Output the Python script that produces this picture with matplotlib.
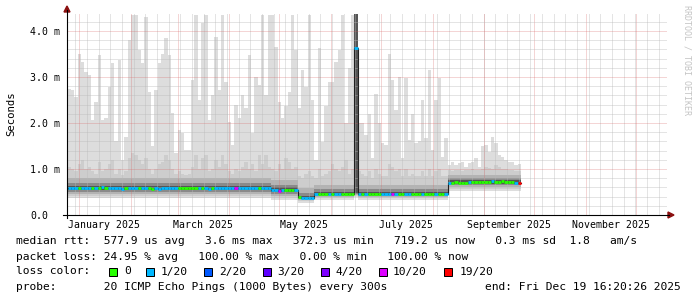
import matplotlib
matplotlib.use('Agg')
import matplotlib.pyplot as plt
import matplotlib.dates as mdates
from matplotlib.patches import Rectangle, Polygon
from matplotlib.lines import Line2D
import numpy as np
import pandas as pd

MONO = 'DejaVu Sans Mono'
plt.rcParams['font.family'] = [MONO]

# ---- data (rtt in ms, one value per 2-day bin) ----
end_time = pd.Timestamp('2025-12-19 16:20:26')
start_time = end_time - pd.Timedelta(days=360)
bin_days = 2
bin_start = pd.date_range('2024-12-25', periods=136, freq='2D')

# stretches where the dark part of the smoke stays level
seg_first = [0, 61, 69, 74, 86, 87, 114]
seg_last = [60, 68, 73, 85, 86, 113, 135]
smoke_bottom = [0.36, 0.33, 0.27, 0.32, 0.40, 0.32, 0.52]
low_outer = [0.41, 0.38, 0.30, 0.36, 0.42, 0.36, 0.57]
low_mid = [0.46, 0.42, 0.33, 0.39, 0.44, 0.39, 0.61]
low_inner = [0.50, 0.46, 0.35, 0.41, 0.46, 0.41, 0.65]
low_core = [0.54, 0.50, 0.36, 0.43, 0.48, 0.43, 0.68]
high_core = [0.64, 0.60, 0.42, 0.50, 4.37, 0.50, 0.76]
high_inner = [0.70, 0.66, 0.48, 0.56, 4.37, 0.56, 0.81]
high_outer = [0.80, 0.76, 0.58, 0.66, 4.37, 0.66, 0.88]

max_rtt = [
    2.75, 2.72, 2.57, 3.50, 3.33, 3.10, 3.04, 2.07, 2.46, 3.48,
    2.07, 2.10, 2.79, 3.30, 1.60, 3.37, 1.20, 1.70, 3.80, 4.35,
    4.35, 3.59, 3.30, 4.31, 2.68, 1.49, 2.72, 3.30, 3.51, 3.84,
    3.48, 2.21, 1.34, 1.85, 1.78, 1.41, 1.41, 2.93, 4.35, 2.50,
    4.17, 4.35, 2.07,
    2.61, 3.88, 2.72, 4.35, 2.90, 2.03, 1.52, 2.39, 2.10, 2.61,
    2.32, 3.48, 1.78, 3.00, 2.83, 4.35, 2.61, 4.35, 4.35, 3.66,
    2.46, 2.10, 2.36, 2.68, 4.35, 3.59, 2.32, 3.15, 2.79, 4.35,
    2.50, 1.20, 3.62, 1.59, 2.36, 2.90, 2.90, 3.33, 3.59, 4.35,
    2.00, 3.19, 4.35,
    4.37, 2.00,
    2.00, 1.74, 2.20, 1.23, 2.64, 2.00, 1.56, 1.52, 3.50, 2.93,
    2.28, 3.00, 1.23, 2.97, 1.63, 2.20, 1.56, 1.60, 2.50, 1.67,
    3.15, 1.41, 2.50, 2.97, 1.27, 1.67, 1.09, 1.16, 1.09, 1.12,
    1.16, 1.05, 1.12, 1.16, 1.23, 1.05, 1.49, 1.52, 1.38, 1.70,
    1.56, 1.30, 1.27, 1.20, 1.16, 1.16, 1.09, 1.10,
]

p90_rtt = [
    1.05, 1.00, 0.95, 1.10, 1.20, 1.00, 1.05, 0.95, 0.90, 1.15,
    0.95, 1.00, 1.10, 1.20, 0.90, 1.00, 0.88, 0.95, 1.25, 1.35,
    1.30, 1.20, 1.10, 1.25, 1.00, 0.90, 1.00, 1.10, 1.15, 1.30,
    1.20, 1.00, 0.90, 0.95, 0.90, 0.88, 0.90, 1.05, 1.30, 1.00,
    1.25, 1.30, 0.95, 1.00, 1.20, 1.05, 1.30, 1.10, 0.95, 0.90,
    1.00, 0.95, 1.05, 1.15, 1.00, 1.10, 0.95, 1.30, 1.10, 1.30,
    1.05,
    1.00, 0.95, 1.10, 1.00, 1.25, 1.15, 1.00, 1.05,
    0.85, 0.80, 0.90, 0.95, 0.85,
    0.80, 1.00, 0.85, 0.90, 0.95, 1.10, 1.00, 0.95, 1.05, 1.20, 0.90, 1.00,
    4.37,
    0.95, 0.90, 0.85, 0.95, 0.80, 1.00, 0.90, 0.85, 0.85, 1.10,
    1.05, 0.95, 1.00, 0.85, 1.00, 0.85, 0.90, 0.85, 0.85, 0.95,
    0.85, 1.00, 0.85, 0.95, 1.00, 0.85, 0.85,
    0.98, 0.96, 0.97, 0.98, 0.96, 0.97, 0.98, 1.00, 0.98, 0.97,
    1.00, 1.05, 1.02, 1.00, 1.08, 1.05, 1.00, 1.00, 0.98, 0.98,
    0.96, 0.96,
]

median_rtt = [
    0.59, 0.59, 0.58, 0.59, 0.58, 0.58, 0.59, 0.58, 0.58, 0.59,
    0.60, 0.59, 0.58, 0.58, 0.58, 0.58, 0.57, 0.58, 0.58, 0.59,
    0.58, 0.58, 0.59, 0.58, 0.58, 0.57, 0.58, 0.57, 0.58, 0.58,
    0.58, 0.58, 0.59, 0.59, 0.58, 0.58, 0.58, 0.59, 0.58, 0.58,
    0.58, 0.58, 0.57, 0.58, 0.58, 0.59, 0.58, 0.58, 0.58, 0.58,
    0.58, 0.58, 0.58, 0.58, 0.58, 0.58, 0.58, 0.58, 0.58, 0.58,
    0.58,
    0.54, 0.54, 0.53, 0.54, 0.54, 0.54, 0.55, 0.54,
    0.40, 0.38, 0.38, 0.37, 0.38,
    0.45, 0.46, 0.45, 0.45, 0.46, 0.45, 0.45, 0.46, 0.45, 0.45, 0.46, 0.46,
    3.62,
    0.46, 0.45, 0.46, 0.46, 0.45, 0.46, 0.45, 0.46, 0.45, 0.46,
    0.45, 0.46, 0.46, 0.45, 0.46, 0.46, 0.45, 0.46, 0.45, 0.46,
    0.46, 0.45, 0.46, 0.46, 0.45, 0.46, 0.46,
    0.70, 0.70, 0.71, 0.70, 0.69, 0.70, 0.71, 0.71, 0.72, 0.71,
    0.72, 0.72, 0.72, 0.73, 0.72, 0.72, 0.73, 0.72, 0.72, 0.71,
    0.69, 0.70,
]

# lost pings out of 20, per bin
lost_pings = [
    1, 1, 1, 0, 1, 1, 1, 0, 1, 0,
    1, 0, 1, 1, 1, 1, 1, 0, 1, 1,
    1, 0, 1, 1, 0, 0, 1, 1, 1, 1,
    1, 1, 1, 0, 0, 0, 0, 0, 0, 1,
    0, 1, 1, 0, 1, 1, 1, 1, 1, 1,
    10, 1, 1, 1, 1, 1, 1, 0, 1, 1,
    1,
    1, 1, 10, 1, 0, 0, 0, 1,
    0, 1, 1, 1, 1,
    1, 0, 0, 0, 1, 0, 1, 1, 0, 0, 0, 0,
    1,
    1, 0, 1, 0, 0, 0, 0, 1, 1, 1,
    10, 1, 0, 0, 1, 1, 0, 0, 0, 1,
    0, 0, 0, 1, 0, 0, 1,
    1, 0, 0, 0, 0, 0, 1, 0, 0, 0,
    0, 0, 0, 1, 0, 0, 0, 0, 0, 0,
    1, 19,
]

loss_levels = [0, 1, 2, 3, 4, 10, 19]
loss_names = ['0', '1/20', '2/20', '3/20', '4/20', '10/20', '19/20']
loss_colors = ['#26ff00', '#00b8ff', '#0059ff', '#5e00ff', '#7e00ff', '#dd00ff', '#ff0000']

month_label_dates = ['2025-01-16', '2025-03-16', '2025-05-16', '2025-07-16', '2025-09-16', '2025-11-16']
month_labels = ['January 2025', 'March 2025', 'May 2025', 'July 2025', 'September 2025', 'November 2025']
y_ticks = [0, 1, 2, 3, 4]
y_labels = ['0.0', '1.0 m', '2.0 m', '3.0 m', '4.0 m']

legend_rtt = 'median rtt:  577.9 us avg   3.6 ms max   372.3 us min   719.2 us now   0.3 ms sd  1.8   am/s'
legend_loss = 'packet loss: 24.95 % avg   100.00 % max   0.00 % min   100.00 % now'
legend_probe = 'probe:       20 ICMP Echo Pings (1000 Bytes) every 300s'
legend_end = 'end: Fri Dec 19 16:20:26 2025'

# ---- figure ----
W, H = 697, 297
fig = plt.figure(figsize=(W / 100, H / 100), dpi=100)
fig.patch.set_facecolor('white')
ax = fig.add_axes([67 / W, (H - 215) / H, 600 / W, 201 / H])
ax.set_facecolor('white')

x = mdates.date2num(bin_start.to_pydatetime())
seg_len = np.array(seg_last) - np.array(seg_first) + 1


def per_bin(vals):
    return np.repeat(np.array(vals, dtype=float), seg_len)


layers = [
    (per_bin(smoke_bottom), np.array(max_rtt), '#dddddd'),
    (per_bin(low_outer), np.array(p90_rtt), '#cdcdcd'),
    (per_bin(low_mid), per_bin(high_outer), '#b3b3b3'),
    (per_bin(low_inner), per_bin(high_inner), '#8a8a8a'),
    (per_bin(low_core), per_bin(high_core), '#555555'),
]
for lo, hi, col in layers:
    ax.bar(x, hi - lo, bottom=lo, width=bin_days, align='edge', color=col,
           linewidth=0, antialiased=False, zorder=1)

# grid (rrdtool style dotted lines, drawn over the smoke)
minor_c = (0.72, 0.72, 0.72, 0.75)
major_c = (0.85, 0.40, 0.40, 0.55)
dots = (0, (1, 1))
for d in pd.date_range(start_time, end_time, freq='W-SUN'):
    ax.axvline(mdates.date2num(d), color=minor_c, lw=0.72, ls=dots, zorder=2)
for d in pd.date_range('2025-01-01', '2025-12-01', freq='MS'):
    ax.axvline(mdates.date2num(d), color=major_c, lw=0.72, ls=dots, zorder=2)
for yv in np.arange(0.2, 4.3, 0.2):
    if abs(yv - round(yv)) > 0.01:
        ax.axhline(yv, color=minor_c, lw=0.72, ls=dots, zorder=2)
for yv in y_ticks[1:]:
    ax.axhline(yv, color=major_c, lw=0.72, ls=dots, zorder=2)

# median line + loss colours
med = np.array(median_rtt)
ax.step(np.append(x, x[-1] + bin_days), np.append(med, med[-1]), where='post',
        color='#202020', lw=0.8, zorder=3)
color_idx = [max(i for i, lv in enumerate(loss_levels) if lv <= n) for n in lost_pings]
ax.hlines(med, x, x + bin_days, colors=[loss_colors[i] for i in color_idx],
          linewidth=2.0, zorder=4)

ax.set_xlim(mdates.date2num(start_time.to_pydatetime()), mdates.date2num(end_time.to_pydatetime()))
ax.set_ylim(0, 4.37)
for s in ax.spines.values():
    s.set_visible(False)

ax.set_xticks(mdates.date2num(pd.to_datetime(month_label_dates).to_pydatetime()))
ax.set_xticklabels(month_labels)
ax.set_yticks(y_ticks)
ax.set_yticklabels(y_labels)
ax.tick_params(axis='x', length=0, pad=3.5, labelsize=7.1)
ax.tick_params(axis='y', length=0, pad=26.6, labelsize=7.1)
for lbl in ax.get_yticklabels():
    lbl.set_horizontalalignment('left')


def fx(px):
    return px / W


def fy(py):
    return 1 - py / H


# axes with arrows
fig.add_artist(Line2D([fx(67), fx(67)], [fy(218), fy(10)], color='black', lw=0.8))
fig.add_artist(Line2D([fx(63), fx(669)], [fy(215), fy(215)], color='black', lw=0.8))
fig.add_artist(Polygon([[fx(64), fy(12)], [fx(70), fy(12)], [fx(67), fy(6)]],
                       closed=True, color='#8b1010', transform=fig.transFigure))
fig.add_artist(Polygon([[fx(668), fy(212)], [fx(668), fy(218)], [fx(674), fy(215)]],
                       closed=True, color='#8b1010', transform=fig.transFigure))

fig.text(fx(11), fy(114), 'Seconds', rotation=90, ha='center', va='center', fontsize=7.7)
fig.text(fx(687), fy(5), 'RRDTOOL / TOBI OETIKER', rotation=270, ha='center', va='top',
         fontsize=6.0, color='#c4c4c4')

# legend rows
LF = 8.1
rows_y = [241, 256.5, 271.5, 286.5]
fig.text(fx(16), fy(rows_y[0]), legend_rtt, ha='left', va='center', fontsize=LF)
fig.text(fx(16), fy(rows_y[1]), legend_loss, ha='left', va='center', fontsize=LF)
fig.text(fx(16), fy(rows_y[3]), legend_probe, ha='left', va='center', fontsize=LF)
fig.text(fx(681), fy(rows_y[3]), legend_end, ha='right', va='center', fontsize=LF)

fig.text(fx(16), fy(rows_y[2]), 'loss color:', ha='left', va='center', fontsize=LF)
box_x = [109, 146, 204, 263, 321, 379, 444]
name_x = [124, 161, 219, 277, 335, 393, 460]
for bx, nx, c, name in zip(box_x, name_x, loss_colors, loss_names):
    fig.add_artist(Rectangle((fx(bx), fy(rows_y[2] + 4)), 8 / W, 8 / H, facecolor=c,
                             edgecolor='black', lw=0.72, transform=fig.transFigure))
    fig.text(fx(nx), fy(rows_y[2]), name, ha='left', va='center', fontsize=LF)

fig.savefig('out.png', dpi=100)
